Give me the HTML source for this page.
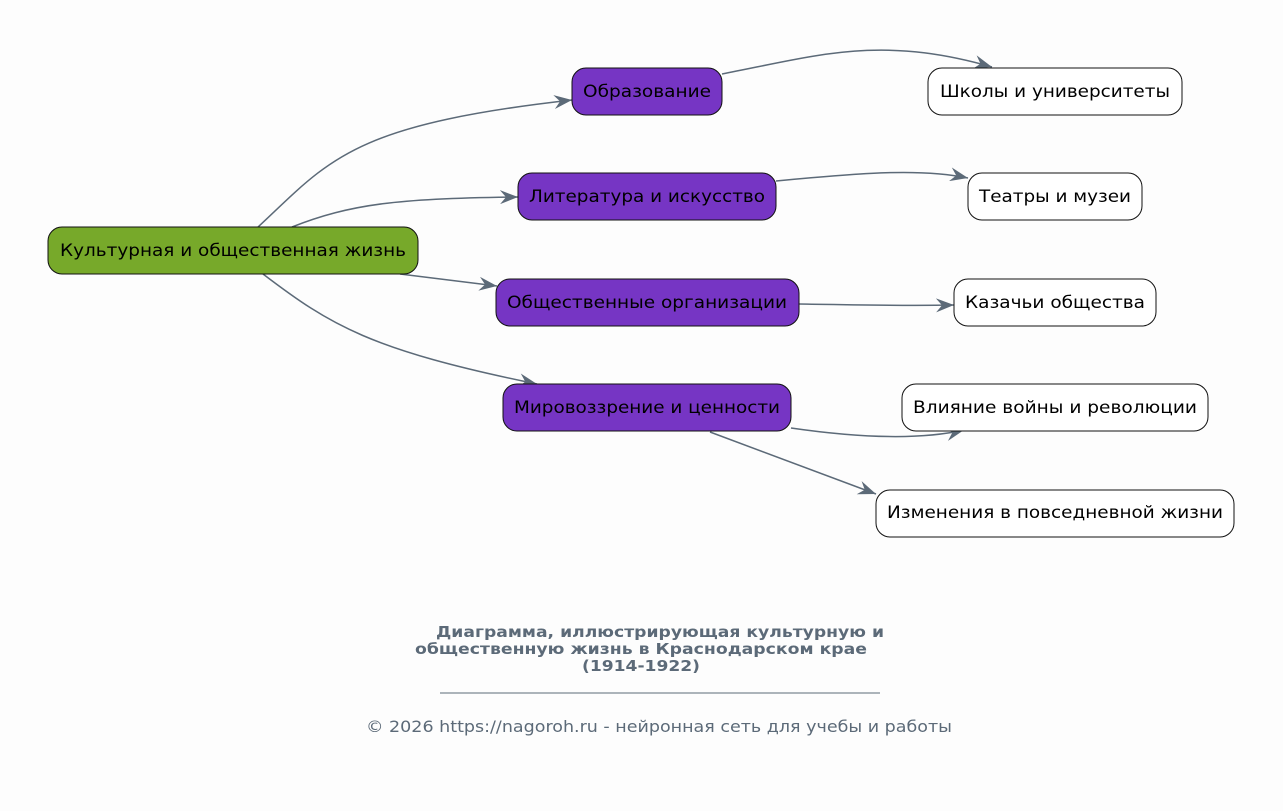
<!DOCTYPE html>
<html><head><meta charset="utf-8"><style>
html,body{margin:0;padding:0;background:#fdfdfd;}
svg{display:block;font-family:"DejaVu Sans","Liberation Sans",sans-serif;}
</style></head><body>
<svg width="1283" height="811" viewBox="0 0 1283 811" xmlns="http://www.w3.org/2000/svg">
<defs>
<marker id="a" markerWidth="20" markerHeight="14" refX="18" refY="7" orient="auto" markerUnits="userSpaceOnUse">
<path d="M0,0 L18,7 L0,14 L6,7 Z" fill="#5c6a78"/>
</marker>
</defs>
<rect width="1283" height="811" fill="#fdfdfd"/>
<g fill="none" stroke="#5c6a78" stroke-width="1.5" marker-end="url(#a)">
<path d="M258,227 C330,160 350,125 572,100"/>
<path d="M292,227 C350,204 400,198 518,197"/>
<path d="M400,274 L497,286"/>
<path d="M263,274 C330,325 370,350 537,384"/>
<path d="M722,74 C820,55 880,35 992,67"/>
<path d="M776,181 C860,173 920,168 968,178"/>
<path d="M799,304 C870,305 900,306 954,305"/>
<path d="M791,428 C860,438 920,440 964,430"/>
<path d="M710,432 L876,494"/>
</g>
<g stroke="#111" stroke-width="1">
<rect x="48" y="227" width="370" height="47" rx="14" fill="#77a92a"/>
<rect x="572" y="68" width="150" height="47" rx="14" fill="#7635c4"/>
<rect x="518" y="173" width="258" height="47" rx="14" fill="#7635c4"/>
<rect x="496" y="279" width="303" height="47" rx="14" fill="#7635c4"/>
<rect x="503" y="384" width="288" height="47" rx="14" fill="#7635c4"/>
<rect x="928" y="68" width="254" height="47" rx="14" fill="#fff"/>
<rect x="968" y="173" width="174" height="47" rx="14" fill="#fff"/>
<rect x="954" y="279" width="202" height="47" rx="14" fill="#fff"/>
<rect x="902" y="384" width="306" height="47" rx="14" fill="#fff"/>
<rect x="876" y="490" width="358" height="47" rx="14" fill="#fff"/>
</g>
<g font-size="17" fill="#000" text-anchor="middle" lengthAdjust="spacingAndGlyphs">
<text x="233" y="256" textLength="346" lengthAdjust="spacingAndGlyphs">Культурная и общественная жизнь</text>
<text x="647" y="97" textLength="128" lengthAdjust="spacingAndGlyphs">Образование</text>
<text x="647" y="202" textLength="236" lengthAdjust="spacingAndGlyphs">Литература и искусство</text>
<text x="647" y="308" textLength="280" lengthAdjust="spacingAndGlyphs">Общественные организации</text>
<text x="647" y="413" textLength="266" lengthAdjust="spacingAndGlyphs">Мировоззрение и ценности</text>
<text x="1055" y="97" textLength="230" lengthAdjust="spacingAndGlyphs">Школы и университеты</text>
<text x="1055" y="202" textLength="152" lengthAdjust="spacingAndGlyphs">Театры и музеи</text>
<text x="1055" y="308" textLength="180" lengthAdjust="spacingAndGlyphs">Казачьи общества</text>
<text x="1055" y="413" textLength="284" lengthAdjust="spacingAndGlyphs">Влияние войны и революции</text>
<text x="1055" y="518" textLength="336" lengthAdjust="spacingAndGlyphs">Изменения в повседневной жизни</text>
</g>
<g fill="#5c6a78" font-weight="bold" font-size="15" text-anchor="middle">
<text x="660" y="637" textLength="448" lengthAdjust="spacingAndGlyphs">Диаграмма, иллюстрирующая культурную и</text>
<text x="641" y="654" textLength="452" lengthAdjust="spacingAndGlyphs">общественную жизнь в Краснодарском крае</text>
<text x="641" y="671" textLength="118" lengthAdjust="spacingAndGlyphs">(1914-1922)</text>
</g>
<line x1="440" y1="693" x2="880" y2="693" stroke="#5c6a78" stroke-width="1"/>
<text x="659" y="732" font-size="16" fill="#5c6a78" text-anchor="middle" textLength="586" lengthAdjust="spacingAndGlyphs">© 2026 https://nagoroh.ru - нейронная сеть для учебы и работы</text>
</svg>
</body></html>
